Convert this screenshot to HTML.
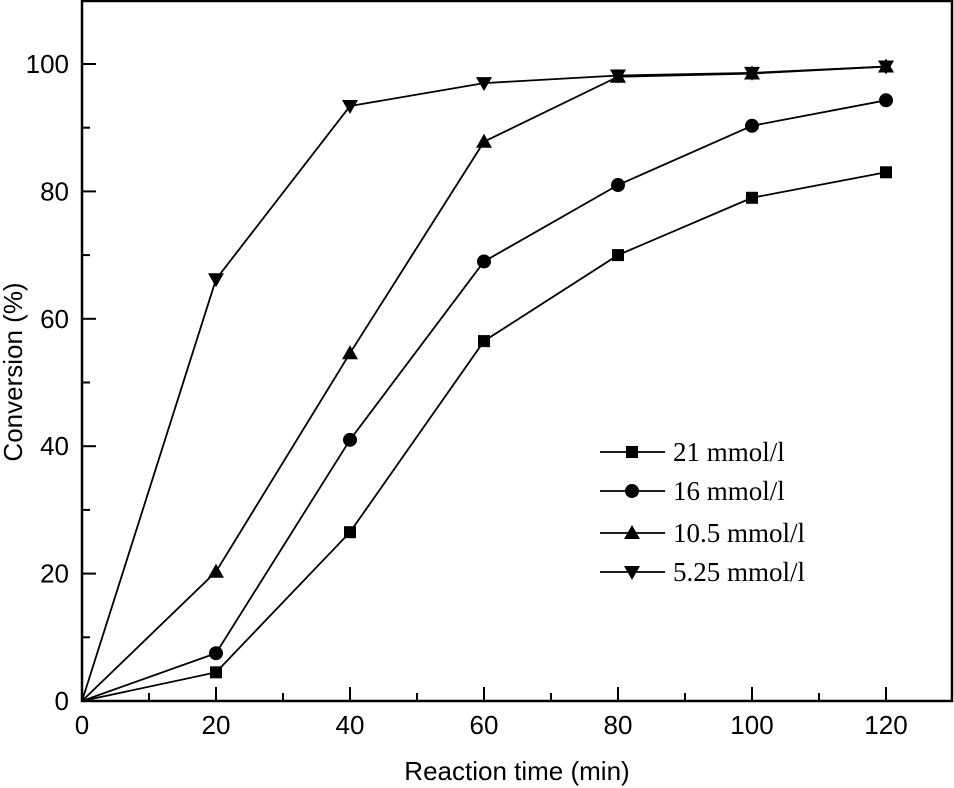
<!DOCTYPE html>
<html><head><meta charset="utf-8"><style>body{margin:0;background:#fff}svg{display:block}</style></head>
<body>
<svg id="chart" width="954" height="788" xmlns="http://www.w3.org/2000/svg" font-family="Liberation Sans, sans-serif">
<rect x="82" y="1" width="870" height="700" fill="none" stroke="#000" stroke-width="2.5"/>
<g id="axes"></g><g id="series"></g>
<text x="517" y="780" font-size="26" text-anchor="middle">Reaction time (min)</text>
<text transform="translate(22,372) rotate(-90)" font-size="26" text-anchor="middle">Conversion (%)</text>
<g id="legend"></g>
</svg>
<script>
const times=[0,20,40,60,80,100,120];
const s21=[0,4.5,26.5,56.5,70,79,83];
const s16=[0,7.5,41,69,81,90.3,94.3];
const s105=[0,20.3,54.6,87.8,98,98.5,99.6];
const s525=[0,66.2,93.4,97,98.2,98.6,99.6];
const names=["21 mmol/l","16 mmol/l","10.5 mmol/l","5.25 mmol/l"];
const xTicks=[0,20,40,60,80,100,120];
const yTicks=[0,20,40,60,80,100];
const NS="http://www.w3.org/2000/svg";
const X=v=>82+v*6.7, Y=v=>701-v*6.37;
function mk(t,a,p){const e=document.createElementNS(NS,t);for(const k in a)e.setAttribute(k,a[k]);p.appendChild(e);return e;}
const ax=document.getElementById('axes');
for(let v=0;v<=130;v+=10){if(X(v)>950)break;const l=mk('line',{x1:X(v),x2:X(v),y1:701,y2:701-(v%20?8:14),stroke:'#000','stroke-width':2},ax);
}
xTicks.forEach(v=>{const t=mk('text',{x:X(v),y:734,'font-size':26,'text-anchor':'middle'},ax);t.textContent=v;
});
for(let v=0;v<=110;v+=10){if(Y(v)<3)break;const l=mk('line',{x1:82,x2:82+(v%20?8:14),y1:Y(v),y2:Y(v),stroke:'#000','stroke-width':2},ax);
}
yTicks.forEach(v=>{const t=mk('text',{x:69,y:Y(v)+9,'font-size':26,'text-anchor':'end'},ax);t.textContent=v;
});
function marker(type,x,y,p){
 if(type==0)return mk('rect',{x:x-6,y:y-6,width:12,height:12},p);
 if(type==1)return mk('circle',{cx:x,cy:y,r:7},p);
 if(type==2)return mk('polygon',{points:`${x},${y-8} ${x+8},${y+6} ${x-8},${y+6}`},p);
 return mk('polygon',{points:`${x},${y+8} ${x+8},${y-6} ${x-8},${y-6}`},p);
}
const sg=document.getElementById('series');
[s21,s16,s105,s525].forEach((s,i)=>{
 const g=mk('g',{},sg);
 
 
 mk('polyline',{points:s.map((v,j)=>X(times[j])+','+Y(v)).join(' '),fill:'none',stroke:'#000','stroke-width':1.8},g);
 s.forEach((v,j)=>{if(j>0){const m=marker(i,X(times[j]),Y(v),g);
  }});
});
const lg=document.getElementById('legend');
const ly=[452,491,533,572];
names.forEach((n,i)=>{
 const g=mk('g',{},lg);
 
 
 mk('line',{x1:600,x2:665,y1:ly[i],y2:ly[i],stroke:'#000','stroke-width':1.8},g);
 marker(i,632,ly[i],g);
 const t=mk('text',{x:673,y:ly[i]+9,'font-size':27,'font-family':'Liberation Serif, serif'},g);t.textContent=n;
});
</script>
</body></html>
